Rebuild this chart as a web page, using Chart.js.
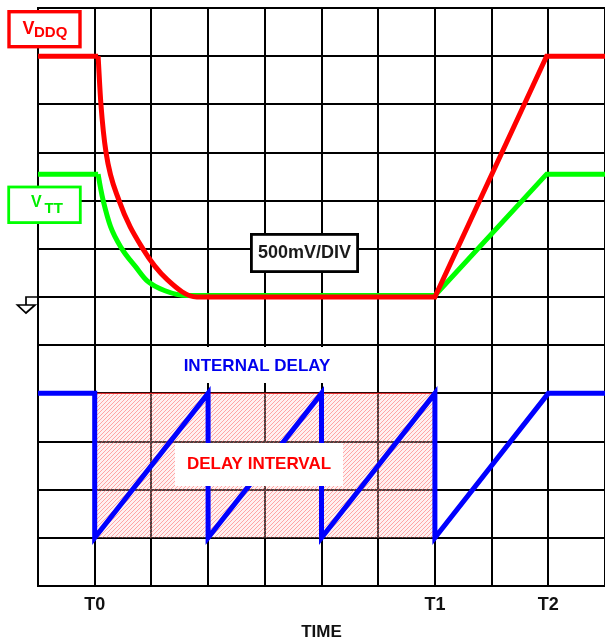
<!DOCTYPE html>
<html>
<head>
<meta charset="utf-8">
<script src="https://cdn.jsdelivr.net/npm/chart.js@4.4.0/dist/chart.umd.min.js"></script>
<style>
html, body { margin: 0; padding: 0; background: #fff; overflow: hidden; }
#wrap { width: 605px; height: 637px; overflow: hidden; }
canvas { display: block; }
</style>
</head>
<body>
<div id="wrap"><canvas id="chart" width="613" height="654"></canvas></div>
<script>
// time axis in divisions, tick labels only at T0, T1, T2
const tickPos = [1, 7, 9];
const tickNames = ['T0', 'T1', 'T2'];

// VDDQ (red)
const vddqFlatT = [0, 1.06];
const vddqFlatV = [11, 11];
const vddqFallT = [1.06, 1.11, 1.20, 1.43, 1.85, 2.28, 2.80, 3.02];
const vddqFallV = [11, 10, 9.0, 8.0, 7.0, 6.36, 6.0, 6.0];
const vddqRiseT = [3.0, 7, 8.97, 10];
const vddqRiseV = [6, 6, 11, 11];

// VTT (green)
const vttFlatT = [0, 1.06];
const vttFlatV = [8.55, 8.55];
const vttFallT = [1.06, 1.11, 1.15, 1.28, 1.48, 1.72, 1.92, 2.24, 2.63, 3.0];
const vttFallV = [8.55, 8.22, 8.0, 7.46, 7.0, 6.63, 6.34, 6.13, 6.03, 6.03];
const vttRiseT = [3.0, 7, 8.97, 10];
const vttRiseV = [6.03, 6.03, 8.55, 8.55];

// internal delay (blue)
const delayT = [0, 1, 1, 3, 3, 5, 5, 7, 7, 9, 10];
const delayV = [4, 4, 1, 4, 1, 4, 1, 4, 1, 4, 4];

// delay interval (hatched)
const intervalT = [1, 7];
const intervalTop = [4, 4];
const intervalBase = 1;

const FONT = "'Liberation Sans', Arial, sans-serif";

function pts(t, v) {
    return t.map((x, i) => ({ x: x, y: v[i] }));
}

function hatch() {
    const p = document.createElement('canvas');
    p.width = 4; p.height = 4;
    const g = p.getContext('2d');
    g.fillStyle = 'rgba(255,210,210,0.3)';
    g.fillRect(0, 0, 4, 4);
    g.strokeStyle = 'rgba(255,90,90,0.5)';
    g.lineWidth = 1;
    g.beginPath();
    g.moveTo(0, 4); g.lineTo(4, 0);
    g.moveTo(-1, 1); g.lineTo(1, -1);
    g.moveTo(3, 5); g.lineTo(5, 3);
    g.stroke();
    return g.createPattern(p, 'repeat');
}

function line(t, v, color, order, curved) {
    return {
        data: pts(t, v),
        borderColor: color,
        borderWidth: 5,
        pointRadius: 0,
        fill: false,
        borderJoinStyle: 'miter',
        borderCapStyle: 'butt',
        cubicInterpolationMode: curved ? 'monotone' : 'default',
        tension: 0,
        order: order
    };
}

function strokeBox(c, x, y, w, h, color, lw) {
    c.fillStyle = '#fff';
    c.fillRect(x, y, w, h);
    c.strokeStyle = color;
    c.lineWidth = lw;
    c.strokeRect(x, y, w, h);
}

// boxes and labels drawn over the grid
const labelsPlugin = {
    id: 'labels',
    afterDatasetsDraw(chart) {
        const c = chart.ctx;
        c.save();
        c.textAlign = 'left';
        c.textBaseline = 'alphabetic';

        // V DDQ
        strokeBox(c, 9, 11.7, 71, 35, '#ff0000', 3.4);
        c.fillStyle = '#ff0000';
        c.font = 'bold 18px ' + FONT;
        c.fillText('V', 22.5, 33.5);
        c.font = 'bold 15px ' + FONT;
        c.fillText('DDQ', 34, 37);

        // V TT
        strokeBox(c, 8.7, 187, 71.6, 35.6, '#00ff00', 2.8);
        c.fillStyle = '#00ee00';
        c.font = 'bold 16px ' + FONT;
        c.fillText('V', 31, 207);
        c.font = 'bold 15px ' + FONT;
        c.fillText('TT', 44.5, 213);

        // ground symbol
        c.strokeStyle = '#000';
        c.lineWidth = 1.7;
        c.beginPath();
        c.moveTo(38, 297); c.lineTo(26, 297); c.lineTo(26, 305);
        c.moveTo(17.5, 305); c.lineTo(35, 305); c.lineTo(26, 313); c.closePath();
        c.stroke();

        c.textAlign = 'center';
        c.textBaseline = 'middle';

        // 500mV/DIV
        strokeBox(c, 251.4, 234.4, 106.2, 37.2, '#000', 2.8);
        c.fillStyle = '#1a1a1a';
        c.font = 'bold 18px ' + FONT;
        c.fillText('500mV/DIV', 304.5, 253.5);

        // INTERNAL DELAY
        c.fillStyle = '#fff';
        c.fillRect(168, 347, 177, 36);
        c.fillStyle = '#0000ee';
        c.font = 'bold 17px ' + FONT;
        c.fillText('INTERNAL DELAY', 257, 366);

        // DELAY INTERVAL
        c.fillStyle = '#fff';
        c.fillRect(175, 443, 168, 43);
        c.fillStyle = '#ff0000';
        c.fillText('DELAY INTERVAL', 259, 464);

        c.restore();
    }
};

const gridOpts = { color: '#000', lineWidth: 2, drawTicks: false };

new Chart(document.getElementById('chart'), {
    type: 'line',
    data: {
        datasets: [
            line(delayT, delayV, '#0000ff', 1, false),
            line(vddqFlatT, vddqFlatV, '#ff0000', 2, false),
            line(vddqFallT, vddqFallV, '#ff0000', 2, true),
            line(vddqRiseT, vddqRiseV, '#ff0000', 2, false),
            line(vttFlatT, vttFlatV, '#00ff00', 3, false),
            line(vttFallT, vttFallV, '#00ff00', 3, true),
            line(vttRiseT, vttRiseV, '#00ff00', 3, false),
            {
                data: pts(intervalT, intervalTop),
                borderColor: '#ff3030',
                borderWidth: 1,
                pointRadius: 0,
                backgroundColor: hatch(),
                fill: { value: intervalBase },
                order: 9
            }
        ]
    },
    options: {
        responsive: false,
        animation: false,
        events: [],
        layout: { padding: { left: 38, top: 8, right: 0, bottom: 11 } },
        plugins: {
            legend: { display: false },
            tooltip: { enabled: false }
        },
        scales: {
            x: {
                type: 'linear',
                min: 0,
                max: 10,
                grid: gridOpts,
                border: { color: '#000', width: 2 },
                ticks: {
                    stepSize: 1,
                    autoSkip: false,
                    maxRotation: 0,
                    padding: 8,
                    color: '#111',
                    font: { family: FONT, size: 18, weight: 'bold' },
                    callback: v => {
                        const i = tickPos.indexOf(v);
                        return i >= 0 ? tickNames[i] : '';
                    }
                },
                title: {
                    display: true,
                    text: 'TIME',
                    color: '#111',
                    font: { family: FONT, size: 17, weight: 'bold' },
                    padding: { top: -1, bottom: 0 }
                }
            },
            y: {
                type: 'linear',
                min: 0,
                max: 12,
                grid: gridOpts,
                border: { color: '#000', width: 2 },
                ticks: { display: false, stepSize: 1 }
            }
        }
    },
    plugins: [labelsPlugin]
});
</script>
</body>
</html>
